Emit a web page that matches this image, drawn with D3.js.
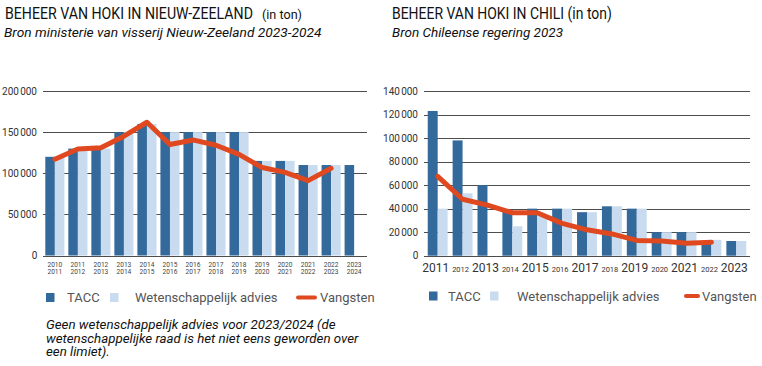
<!DOCTYPE html>
<html><head><meta charset="utf-8">
<script src="https://cdn.jsdelivr.net/npm/d3@7"></script>
<style>
html,body{margin:0;padding:0;background:#fff;}
svg{display:block;font-family:Roboto,"Liberation Sans",sans-serif;}
</style></head>
<body>
<svg id="c" width="762" height="366"></svg>
<script>
// ---- Data: Nieuw-Zeeland ----
const nzSeasons = ["2010\n2011","2011\n2012","2012\n2013","2013\n2014","2014\n2015","2015\n2016","2016\n2017","2017\n2018","2018\n2019","2019\n2020","2020\n2021","2021\n2022","2022\n2023","2023\n2024"];
const nzTacc    = [120000,130000,130000,150000,160000,150000,150000,150000,150000,115000,115000,110000,110000,110000];
const nzAdvies  = [120000,130000,130000,150000,160000,150000,150000,150000,150000,115000,115000,110000,110000,null];
const nzVangst  = [117000,129500,131000,145000,162000,135000,140500,134000,123000,107000,101000,91000,106000];
const nzTicks   = [0,50000,100000,150000,200000];
const nzTickLabels = ["0","50\u202F000","100\u202F000","150\u202F000","200\u202F000"];

// ---- Data: Chili ----
const clYears   = ["2011","2012","2013","2014","2015","2016","2017","2018","2019","2020","2021","2022","2023"];
const clTacc    = [123000,98000,60000,38000,40000,40000,37000,42000,40000,20000,20000,12000,12500];
const clAdvies  = [40000,53000,null,25000,35000,40000,37000,42000,40000,20000,20000,13500,12500];
const clVangst  = [67500,48000,43000,36500,36500,27500,22000,18500,13000,12500,10500,11500];
const clTicks   = [0,20000,40000,60000,80000,100000,120000,140000];
const clTickLabels = ["0","20\u202F000","40\u202F000","60\u202F000","80\u202F000","100\u202F000","120\u202F000","140\u202F000"];

const legendLabels = ["TACC","Wetenschappelijk advies","Vangsten"];
const noteLines = ["Geen wetenschappelijk advies voor 2023/2024 (de","wetenschappelijke raad is het niet eens geworden over","een limiet)."];

const DARK="#336a9b", LIGHT="#c9dcef", RED="#e0481f", GRID="#4d4d4d", TXT="#333";
const svg = d3.select("#c");

function chart(opt){
  const g = svg.append("g");
  const y = d3.scaleLinear().domain(opt.yDomain).range([opt.y0, opt.y1]);
  const x = d3.scaleBand().domain(opt.cats).range([opt.x0, opt.x1]).paddingInner(opt.pi).paddingOuter(opt.po);
  const x1 = d3.scaleBand().domain(["t","a"]).range([0, x.bandwidth()]);
  g.selectAll("line.grid").data(opt.ticks).join("line")
    .attr("x1", opt.gx0).attr("x2", opt.gx1)
    .attr("y1", d=>Math.round(y(d))+0.5).attr("y2", d=>Math.round(y(d))+0.5)
    .attr("stroke", GRID).attr("stroke-width", 1);
  g.selectAll("text.yt").data(opt.ticks).join("text")
    .attr("x", opt.labX).attr("y", d=>y(d)+3.5)
    .attr("text-anchor","end").attr("font-size",10).attr("fill",TXT)
    .attr("letter-spacing","-0.3")
    .text((d,i)=>opt.tickLabels[i]);
  const rows = opt.cats.map((c,i)=>({c, t:opt.tacc[i], a:opt.adv[i]}));
  g.selectAll("rect.t").data(rows).join("rect")
    .attr("x", d=>x(d.c)+x1("t")).attr("width", x1.bandwidth())
    .attr("y", d=>y(d.t)).attr("height", d=>y(0)-y(d.t)).attr("fill", DARK);
  g.selectAll("rect.a").data(rows.filter(d=>d.a!=null)).join("rect")
    .attr("x", d=>x(d.c)+x1("a")).attr("width", x1.bandwidth())
    .attr("y", d=>y(d.a)).attr("height", d=>y(0)-y(d.a)).attr("fill", LIGHT);
  const line = d3.line().x((d,i)=>x(opt.cats[i])+x.bandwidth()/2).y(d=>y(d));
  g.append("path").datum(opt.catch).attr("d", line)
    .attr("fill","none").attr("stroke",RED).attr("stroke-width",5)
    .attr("stroke-linejoin","round").attr("stroke-linecap","round");
  opt.xLabels(g, x);
}

chart({
  cats: nzSeasons, tacc: nzTacc, adv: nzAdvies, catch: nzVangst,
  yDomain:[0,200000], y0:255.5, y1:91, ticks:nzTicks, tickLabels:nzTickLabels,
  x0:43, x1:366, pi:0.17, po:0.1, gx0:43, gx1:367, labX:37,
  xLabels:(g,x)=>{
    const t = g.selectAll("text.xl").data(nzSeasons).join("text")
      .attr("text-anchor","middle").attr("font-size",6.6).attr("fill","#444");
    t.each(function(d){
      const parts = d.split("\n");
      const cx = x(d)+x.bandwidth()/2;
      d3.select(this).selectAll("tspan").data(parts).join("tspan")
        .attr("x", cx).attr("y",(p,i)=>267+i*7).text(p=>p);
    });
  }
});

chart({
  cats: clYears, tacc: clTacc, adv: clAdvies, catch: clVangst,
  yDomain:[0,140000], y0:255.7, y1:91, ticks:clTicks, tickLabels:clTickLabels,
  x0:424, x1:750, pi:0.2, po:0.15, gx0:424, gx1:750, labX:418,
  xLabels:(g,x)=>{
    g.selectAll("text.xl").data(clYears).join("text")
      .attr("x", d=>x(d)+x.bandwidth()/2 - 2).attr("y", 272)
      .attr("text-anchor","middle").attr("fill","#333")
      .attr("font-size",(d,i)=> i%2===0 ? 12 : 7.5)
      .text(d=>d);
  }
});

// Text fitted horizontally via scale transform (condensed look)
function fitText(x, y, text, size, width, italic){
  const t = svg.append("text").attr("x",0).attr("y",0).attr("font-size",size).attr("fill","#111")
    .attr("font-style", italic ? "italic" : "normal").text(text);
  const w = t.node().getComputedTextLength();
  t.attr("transform",`translate(${x},${y}) scale(${width/w},1)`);
}
fitText(5,19,"BEHEER VAN HOKI IN NIEUW-ZEELAND",16.5,248,false);
fitText(262,19,"(in ton)",13,40,false);
fitText(4,37,"Bron ministerie van visserij Nieuw-Zeeland 2023-2024",12.5,318,true);
fitText(392,19,"BEHEER VAN HOKI IN CHILI (in ton)",16.5,220,false);
fitText(392,37,"Bron Chileense regering 2023",12.5,171,true);

function legend(pos){
  const g = svg.append("g");
  g.append("rect").attr("x",pos.s1).attr("y",pos.top).attr("width",8.5).attr("height",9).attr("fill",DARK);
  g.append("rect").attr("x",pos.s2).attr("y",pos.top).attr("width",8.5).attr("height",9).attr("fill",LIGHT);
  g.append("line").attr("x1",pos.l0).attr("x2",pos.l1).attr("y1",pos.top+4.5).attr("y2",pos.top+4.5)
    .attr("stroke",RED).attr("stroke-width",4).attr("stroke-linecap","round");
  const tx = [pos.t1,pos.t2,pos.t3];
  g.selectAll("text").data(legendLabels).join("text")
    .attr("x",(d,i)=>tx[i]).attr("y",pos.top+9).attr("font-size",13).attr("fill","#555").text(d=>d);
}
legend({top:293, s1:46, s2:110, l0:298, l1:315, t1:67, t2:135, t3:320});
legend({top:291.5, s1:429, s2:490, l0:686, l1:698, t1:448, t2:517, t3:702});

svg.append("g").selectAll("text").data(noteLines).join("text")
  .attr("x",46).attr("y",(d,i)=>329+i*13.5).attr("font-size",13.3).attr("font-style","italic").attr("fill","#111")
  .text(d=>d);
</script>
</body></html>
